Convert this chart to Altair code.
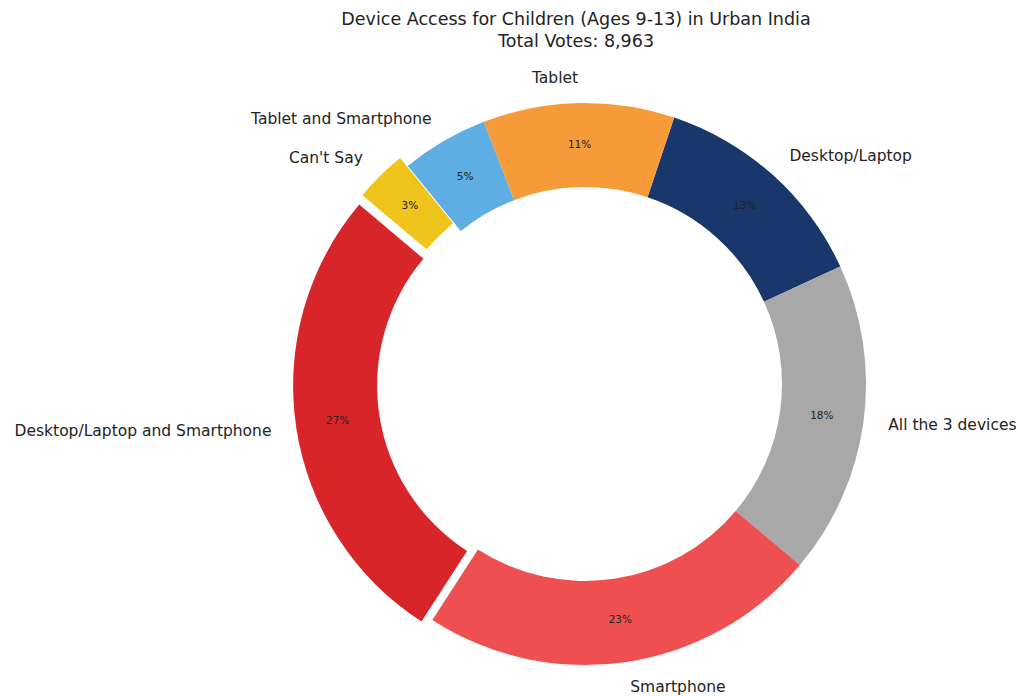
import altair as alt
import pandas as pd

# ---- data (clockwise order starting just right of 12 o'clock) ----
categories = ["Desktop/Laptop", "All the 3 devices", "Smartphone",
              "Desktop/Laptop and Smartphone", "Can't Say",
              "Tablet and Smartphone", "Tablet"]
values = [13, 18, 23, 27, 3, 5, 11]
colors = ["#19376B", "#A8A8A8", "#EE5052", "#D8252A", "#EFC41C", "#5EADE3", "#F79B3A"]
explode = [0, 0, 0, 11, 11, 0, 0]

df = pd.DataFrame({
    "category": categories,
    "value": values,
    "explode": explode,
    "idx": list(range(len(categories))),
})

PAD_TOP = 55
CX, CY = 585, 384 - PAD_TOP
R_OUT, R_IN = 281, 197
R_PCT = 239
R_LAB = 306
START = 0.323  # radians, clockwise from 12 o'clock

base = alt.Chart(df).transform_joinaggregate(
    total="sum(value)"
).transform_window(
    cum="sum(value)", sort=[alt.SortField("idx")], frame=[None, 0]
).transform_calculate(
    t0=f"{START} + 2*PI*(datum.cum - datum.value)/datum.total",
    t1=f"{START} + 2*PI*datum.cum/datum.total",
).transform_calculate(
    mid="(datum.t0 + datum.t1)/2",
).transform_calculate(
    cx=f"{CX} + datum.explode*sin(datum.mid)",
    cy=f"{CY} - datum.explode*cos(datum.mid)",
).transform_calculate(
    px=f"datum.cx + {R_PCT}*sin(datum.mid)",
    py=f"datum.cy - {R_PCT}*cos(datum.mid)",
    lx=f"datum.cx + {R_LAB}*sin(datum.mid)",
    ly=f"datum.cy - {R_LAB}*cos(datum.mid)",
    pct="datum.value + '%'",
    side="sin(datum.mid) >= 0 ? 'r' : 'l'",
)

FONT = "DejaVu Sans"

arcs = base.mark_arc(radius=R_OUT, radius2=R_IN).encode(
    x=alt.X("cx:Q", scale=None, axis=None),
    y=alt.Y("cy:Q", scale=None, axis=None),
    theta=alt.Theta("t0:Q", scale=None),
    theta2=alt.Theta2("t1:Q"),
    color=alt.Color("category:N",
                    scale=alt.Scale(domain=categories, range=colors),
                    legend=None),
)

pct_text = base.mark_text(font=FONT, fontSize=10.5, color="#222222",
                          align="center", baseline="middle").encode(
    x=alt.X("px:Q", scale=None, axis=None),
    y=alt.Y("py:Q", scale=None, axis=None),
    text="pct:N",
)

lab_right = base.transform_filter("datum.side == 'r'").mark_text(
    font=FONT, fontSize=15.5, color="#222222", align="left", baseline="middle"
).encode(
    x=alt.X("lx:Q", scale=None, axis=None),
    y=alt.Y("ly:Q", scale=None, axis=None),
    text="category:N",
)

lab_left = base.transform_filter("datum.side == 'l'").mark_text(
    font=FONT, fontSize=15.5, color="#222222", align="right", baseline="middle"
).encode(
    x=alt.X("lx:Q", scale=None, axis=None),
    y=alt.Y("ly:Q", scale=None, axis=None),
    text="category:N",
)

chart = alt.layer(arcs, pct_text, lab_right, lab_left).properties(
    width=1018,
    height=696 - PAD_TOP,
    autosize=alt.AutoSizeParams(type="none"),
    padding={"left": 0, "top": PAD_TOP, "right": 0, "bottom": 0},
    title=alt.TitleParams(
        text=["Device Access for Children (Ages 9-13) in Urban India",
              "Total Votes: 8,963"],
        font=FONT, fontSize=17.5, fontWeight="normal", color="#222222",
        anchor="middle", dx=67, offset=5, lineHeight=22,
    ),
).configure_view(stroke=None)

chart.save("out.html", embed_options={"renderer": "svg", "actions": False})
